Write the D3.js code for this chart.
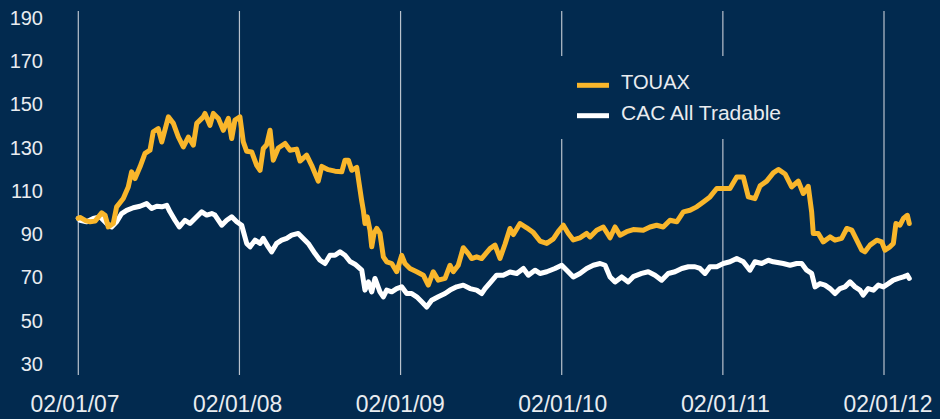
<!DOCTYPE html>
<html>
<head>
<meta charset="utf-8">
<script src="https://cdn.jsdelivr.net/npm/d3@7"></script>
<style>
  html, body { margin: 0; padding: 0; background: #022a4f; }
  svg { display: block; }
</style>
</head>
<body>
<svg id="chart" width="940" height="419"></svg>
<script>
// ---- data (time in decimal years) ----
const yTicks = [30, 50, 70, 90, 110, 130, 150, 170, 190];
const xTickYears = [2007, 2008, 2009, 2010, 2011, 2012];
const xTickLabels = ["02/01/07", "02/01/08", "02/01/09", "02/01/10", "02/01/11", "02/01/12"];
const seriesNames = ["TOUAX", "CAC All Tradable"];

const touaxTime = [2007.000,2007.011,2007.048,2007.073,2007.104,2007.145,2007.166,2007.186,2007.217,2007.238,
  2007.279,2007.310,2007.331,2007.352,2007.383,2007.414,2007.445,2007.465,2007.496,2007.518,
  2007.559,2007.590,2007.621,2007.652,2007.683,2007.714,2007.735,2007.776,2007.786,2007.817,
  2007.838,2007.869,2007.900,2007.931,2007.952,2007.972,2008.003,2008.024,2008.045,2008.076,
  2008.107,2008.128,2008.148,2008.169,2008.190,2008.210,2008.241,2008.283,2008.314,2008.355,
  2008.376,2008.417,2008.448,2008.489,2008.511,2008.551,2008.593,2008.635,2008.655,2008.676,
  2008.697,2008.728,2008.759,2008.769,2008.779,2008.793,2008.810,2008.821,2008.835,2008.852,
  2008.872,2008.893,2008.914,2008.945,2008.976,2009.007,2009.027,2009.058,2009.100,2009.141,
  2009.172,2009.203,2009.234,2009.276,2009.307,2009.327,2009.358,2009.389,2009.420,2009.441,
  2009.472,2009.503,2009.555,2009.586,2009.617,2009.648,2009.679,2009.700,2009.741,2009.783,
  2009.824,2009.865,2009.907,2009.948,2009.979,2010.010,2010.041,2010.072,2010.113,2010.155,
  2010.176,2010.217,2010.258,2010.300,2010.331,2010.362,2010.403,2010.444,2010.506,2010.548,
  2010.589,2010.630,2010.672,2010.714,2010.755,2010.796,2010.838,2010.879,2010.920,2010.962,
  2011.003,2011.044,2011.086,2011.127,2011.158,2011.199,2011.231,2011.272,2011.313,2011.344,
  2011.386,2011.427,2011.468,2011.499,2011.530,2011.551,2011.561,2011.592,2011.623,2011.665,
  2011.696,2011.737,2011.769,2011.800,2011.831,2011.862,2011.882,2011.913,2011.955,2011.986,
  2012.006,2012.037,2012.058,2012.074,2012.099,2012.120,2012.145,2012.157];
const touaxValues = [97.0,97.4,95.8,95.4,95.7,99.5,98.4,93.0,94.6,102.3,
  106.2,111.5,118.5,115.4,120.8,127.0,128.5,137.0,138.5,132.3,
  143.9,140.9,134.6,130.0,134.6,130.8,140.9,143.9,145.5,140.0,
  145.5,143.2,137.7,143.2,133.9,142.4,143.9,132.3,128.0,127.7,
  121.5,119.2,129.3,131.0,137.7,123.9,129.5,131.6,128.5,129.0,
  123.5,126.2,121.5,114.2,121.0,119.5,118.8,118.5,123.9,123.9,
  119.2,120.5,105.0,100.7,94.6,97.7,91.5,83.8,90.0,92.3,
  90.0,79.2,76.9,76.1,72.3,79.9,76.1,73.8,72.3,70.7,
  66.1,72.3,68.4,69.2,75.3,72.3,75.3,83.4,80.7,78.4,
  79.2,78.4,83.0,84.6,78.5,85.0,92.3,89.5,94.6,92.6,
  90.4,86.5,85.4,87.5,91.0,93.8,90.0,87.0,88.0,90.0,
  88.4,91.5,93.0,88.0,93.0,89.2,90.8,91.8,91.5,93.0,
  93.8,93.0,96.1,95.4,100.0,100.7,102.3,104.6,106.9,110.8,
  110.8,110.8,116.1,116.1,106.9,106.1,112.0,114.2,118.0,119.6,
  117.5,111.5,114.2,108.5,111.8,100.0,90.0,90.0,86.1,88.4,
  86.9,87.7,92.3,91.5,86.9,82.3,81.5,84.6,86.9,86.1,
  82.3,83.8,85.4,94.6,93.8,96.9,98.4,94.6];

const cacTime = [2007.000,2007.011,2007.052,2007.093,2007.135,2007.176,2007.207,2007.238,2007.269,2007.300,
  2007.341,2007.383,2007.424,2007.455,2007.487,2007.518,2007.549,2007.569,2007.600,2007.627,
  2007.662,2007.693,2007.724,2007.766,2007.797,2007.828,2007.848,2007.890,2007.921,2007.952,
  2007.983,2008.014,2008.045,2008.066,2008.097,2008.128,2008.148,2008.179,2008.200,2008.231,
  2008.262,2008.293,2008.324,2008.365,2008.396,2008.427,2008.469,2008.500,2008.531,2008.562,
  2008.593,2008.624,2008.655,2008.686,2008.717,2008.759,2008.779,2008.800,2008.821,2008.841,
  2008.872,2008.893,2008.914,2008.945,2008.976,2009.007,2009.038,2009.069,2009.100,2009.131,
  2009.162,2009.193,2009.234,2009.276,2009.307,2009.348,2009.389,2009.431,2009.472,2009.503,
  2009.524,2009.555,2009.596,2009.637,2009.679,2009.721,2009.762,2009.793,2009.834,2009.865,
  2009.907,2009.958,2010.000,2010.031,2010.072,2010.113,2010.155,2010.196,2010.238,2010.269,
  2010.300,2010.331,2010.372,2010.413,2010.444,2010.496,2010.537,2010.579,2010.620,2010.661,
  2010.703,2010.745,2010.786,2010.827,2010.858,2010.889,2010.920,2010.962,2011.003,2011.044,
  2011.086,2011.127,2011.168,2011.199,2011.241,2011.282,2011.313,2011.375,2011.417,2011.458,
  2011.489,2011.520,2011.551,2011.572,2011.603,2011.634,2011.665,2011.696,2011.727,2011.758,
  2011.789,2011.820,2011.851,2011.871,2011.902,2011.934,2011.965,2011.996,2012.027,2012.058,
  2012.089,2012.120,2012.145,2012.157];
const cacValues = [97.0,96.1,95.4,96.9,97.7,94.6,93.0,95.4,99.2,100.7,
  101.9,102.6,103.8,101.5,102.6,102.3,103.0,100.0,96.1,93.0,
  96.1,94.6,96.9,100.0,98.5,99.2,98.5,93.8,96.1,97.7,
  95.4,93.8,85.4,83.8,86.9,85.4,87.7,83.8,81.5,85.4,
  86.9,87.7,89.2,90.0,87.7,85.4,80.7,77.6,76.1,79.9,
  79.9,81.5,79.9,77.0,75.8,73.0,63.8,67.6,63.0,69.2,
  63.0,60.7,63.8,63.0,64.5,65.3,62.2,62.2,60.7,58.4,
  56.0,59.1,60.7,62.2,63.8,65.3,66.1,64.5,63.8,62.2,
  64.5,67.2,70.7,70.7,72.2,71.5,73.8,70.7,73.0,71.5,
  72.3,73.8,75.3,73.0,69.9,71.5,73.8,75.3,76.1,75.3,
  69.9,67.6,69.9,67.6,70.0,71.5,72.3,70.7,68.4,71.5,
  72.3,73.8,74.6,74.6,73.8,71.5,74.6,74.6,76.1,76.9,
  78.4,76.9,73.0,76.9,76.1,77.6,76.9,76.1,75.3,76.1,
  76.1,73.0,71.5,65.3,66.8,66.1,64.5,62.2,64.5,65.3,
  67.6,65.3,63.8,61.5,64.5,63.8,66.1,65.3,66.8,68.4,
  69.2,69.9,70.7,69.2];

// ---- drawing ----
const BG = "#022a4f";
const ORANGE = "#f9b62b";
const WHITE = "#ffffff";
const TEXT = "#e9ecf0";
const GRID = "#b9c2cd";
const FONT = "'Liberation Sans', Arial, Helvetica, sans-serif";

const svg = d3.select("#chart");
svg.append("rect").attr("width", 940).attr("height", 419).attr("fill", BG);

const x = d3.scaleLinear().domain([2007, 2012]).range([78.3, 884]);
const y = d3.scaleLinear().domain([30, 190]).range([363.2, 17.2]);
const gridTop = 11, gridBottom = 375;

// vertical gridlines
svg.append("g").selectAll("line").data(xTickYears).join("line")
  .attr("x1", d => x(d)).attr("x2", d => x(d))
  .attr("y1", gridTop).attr("y2", gridBottom)
  .attr("stroke", GRID).attr("stroke-width", 1.2);

// y axis labels (no domain line)
const yAxis = d3.axisLeft(y).tickValues(yTicks).tickSize(0).tickPadding(0);
const gy = svg.append("g").attr("transform", "translate(43,0)").call(yAxis);
gy.select(".domain").remove();
gy.selectAll("text")
  .attr("fill", TEXT)
  .attr("font-family", FONT)
  .attr("font-size", 20)
  .attr("dy", "0.36em");

// x axis labels
const xLab = d3.scalePoint().domain(xTickLabels).range([75, 888]);
svg.append("g").selectAll("text").data(xTickLabels).join("text")
  .attr("x", d => xLab(d))
  .attr("y", 412)
  .attr("text-anchor", "middle")
  .attr("fill", TEXT)
  .attr("font-family", FONT)
  .attr("font-size", 24)
  .attr("textLength", 89)
  .attr("lengthAdjust", "spacingAndGlyphs")
  .text(d => d);

// lines
const line = d3.line().x(d => x(d[0])).y(d => y(d[1]));
const cacData = cacTime.map((t, i) => [t, cacValues[i]]);
const touaxData = touaxTime.map((t, i) => [t, touaxValues[i]]);

svg.append("path").datum(cacData)
  .attr("d", line).attr("fill", "none")
  .attr("stroke", WHITE).attr("stroke-width", 5)
  .attr("stroke-linejoin", "round").attr("stroke-linecap", "round");

svg.append("path").datum(touaxData)
  .attr("d", line).attr("fill", "none")
  .attr("stroke", ORANGE).attr("stroke-width", 5)
  .attr("stroke-linejoin", "round").attr("stroke-linecap", "round");

// legend
const legend = svg.append("g");
legend.append("rect").attr("x", 548).attr("y", 56).attr("width", 250).attr("height", 83).attr("fill", BG);
const legColors = [ORANGE, WHITE];
const legWidths = [69, 160];
const legY = d3.scalePoint().domain(seriesNames).range([85.3, 115.7]);
legend.selectAll("line").data(seriesNames).join("line")
  .attr("x1", 577).attr("x2", 609)
  .attr("y1", d => legY(d)).attr("y2", d => legY(d))
  .attr("stroke", (d, i) => legColors[i]).attr("stroke-width", 5);
legend.selectAll("text").data(seriesNames).join("text")
  .attr("x", 621).attr("y", d => legY(d) + 3.8)
  .attr("fill", TEXT)
  .attr("font-family", FONT)
  .attr("font-size", 20.5)
  .attr("textLength", (d, i) => legWidths[i])
  .attr("lengthAdjust", "spacingAndGlyphs")
  .text(d => d);
</script>
</body>
</html>
